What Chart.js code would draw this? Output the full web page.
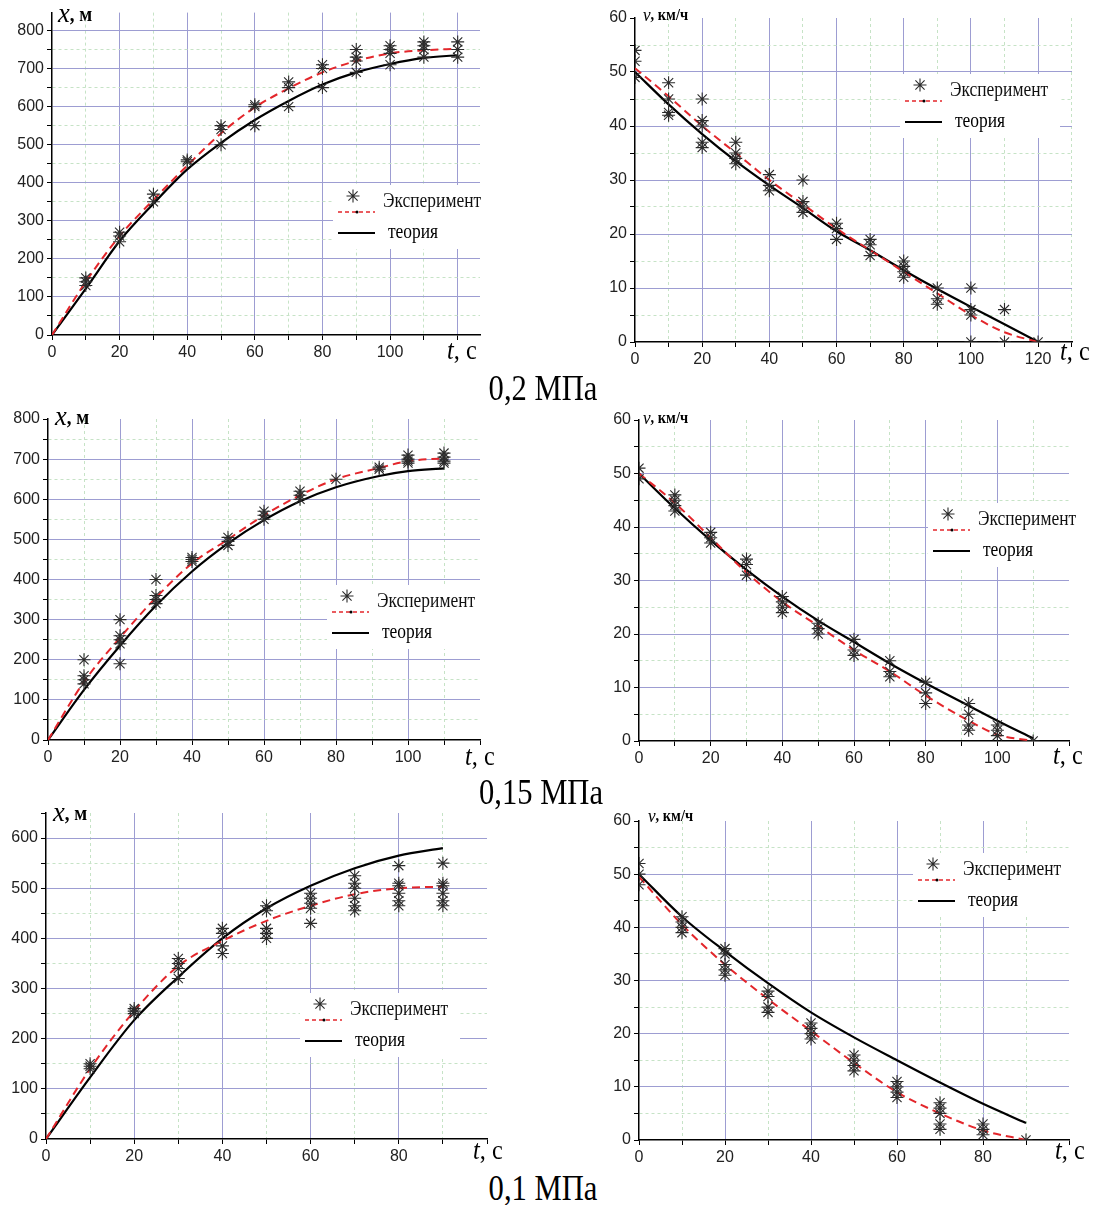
<!DOCTYPE html>
<html>
<head>
<meta charset="utf-8">
<script src="https://cdn.jsdelivr.net/npm/chart.js@4.4.1/dist/chart.umd.min.js"></script>
<style>
  body { margin: 0; background: #fff; width: 1099px; height: 1205px; position: relative; overflow: hidden; }
  canvas { position: absolute; }
  .cap { position: absolute; font-family: 'Liberation Serif', serif; font-size: 36px; line-height: 1; color: #000;
         white-space: nowrap; transform: translateX(-50%) scaleX(0.85); }
</style>
</head>
<body>
<canvas id="c1" width="540" height="372" style="left:0;top:0"></canvas>
<canvas id="c2" width="519" height="372" style="left:580px;top:0"></canvas>
<canvas id="c3" width="540" height="375" style="left:0;top:395px"></canvas>
<canvas id="c4" width="519" height="375" style="left:580px;top:395px"></canvas>
<canvas id="c5" width="540" height="370" style="left:0;top:798px"></canvas>
<canvas id="c6" width="519" height="370" style="left:580px;top:798px"></canvas>
<div class="cap" style="left:543px;top:370px">0,2 МПа</div>
<div class="cap" style="left:541px;top:774px">0,15 МПа</div>
<div class="cap" style="left:543px;top:1170px">0,1 МПа</div>
<script>
// ---- data ----
// tick labels
const xLabels800 = [0, 100, 200, 300, 400, 500, 600, 700, 800];
const xLabels600 = [0, 100, 200, 300, 400, 500, 600];
const vLabels = [0, 10, 20, 30, 40, 50, 60];
const tLabels100 = [0, 20, 40, 60, 80, 100];
const tLabels120 = [0, 20, 40, 60, 80, 100, 120];
const tLabels80 = [0, 20, 40, 60, 80];

// 0,2 МПа — path x(t)
const x02Time = [0, 10, 20, 30, 40, 50, 60, 70, 80, 90, 100, 110, 120];
const x02Fit = [0, 140, 260, 355, 445, 530, 598, 648, 690, 720, 740, 748, 752];
const x02Theory = [0, 122, 247, 345, 435, 505, 565, 615, 658, 690, 712, 728, 735];
const x02ExpT = [10, 10, 10, 20, 20, 20, 30, 30, 40, 40, 50, 50, 50, 60, 60, 60, 70, 70, 70, 80, 80, 80,
  90, 90, 90, 90, 100, 100, 100, 100, 110, 110, 110, 110, 120, 120, 120];
const x02ExpX = [150, 140, 130, 270, 260, 245, 370, 350, 460, 455, 550, 540, 500, 605, 600, 550, 665, 650, 600, 710, 700, 650,
  750, 730, 720, 690, 760, 750, 740, 710, 770, 760, 750, 730, 770, 750, 730];

// 0,2 МПа — speed v(t)
const v02Time = [0, 10, 20, 30, 40, 50, 60, 70, 80, 90, 100, 110, 120];
const v02Fit = [50.7, 45.5, 40, 35, 30, 25.5, 21, 17, 13, 9, 5, 1.8, 0];
const v02Theory = [50, 44, 38.5, 33.5, 29, 24.8, 20.5, 17, 13.3, 9.8, 6.5, 3.3, 0];
const v02ExpT = [0, 0, 0, 10, 10, 10, 10, 20, 20, 20, 20, 20, 30, 30, 30, 30, 40, 40, 40, 50, 50, 50, 50,
  60, 60, 60, 70, 70, 70, 80, 80, 80, 80, 90, 90, 90, 100, 100, 100, 100, 110, 110, 120];
const v02ExpV = [54, 52, 49, 48, 45, 42.5, 42, 45, 41, 40, 37, 36, 37, 35, 34, 33, 31, 29, 28, 30, 26, 25, 24,
  22, 21, 19, 19, 18, 16, 15, 14, 13, 12, 10, 8, 7, 10, 6, 5, 0, 6, 0, 0];

// 0,15 МПа — path x(t)
const x015Time = [0, 10, 20, 30, 40, 50, 60, 70, 80, 92, 100, 110];
const x015Fit = [0, 145, 255, 355, 440, 500, 560, 610, 650, 678, 695, 702];
const x015Theory = [0, 125, 235, 335, 420, 490, 548, 595, 630, 658, 670, 677];
const x015ExpT = [10, 10, 10, 10, 20, 20, 20, 20, 20, 30, 30, 30, 30, 40, 40, 40, 50, 50, 50, 60, 60, 60,
  70, 70, 70, 80, 92, 92, 100, 100, 100, 100, 110, 110, 110, 110];
const x015ExpX = [200, 160, 150, 140, 300, 260, 250, 240, 190, 400, 360, 350, 340, 455, 450, 445, 505, 495, 485, 570, 560, 550,
  620, 610, 600, 650, 680, 675, 710, 700, 695, 690, 715, 705, 695, 690];

// 0,15 МПа — speed v(t)
const v015Time = [0, 10, 20, 30, 40, 50, 60, 70, 80, 92, 100, 110];
const v015Fit = [50, 44.5, 38, 31.5, 26, 21.5, 17, 13, 8.5, 3.8, 1.2, 0];
const v015Theory = [50, 43.5, 37.5, 32, 27, 22.5, 18.5, 14.5, 10.8, 6.6, 3.8, 0.5];
const v015ExpT = [0, 0, 10, 10, 10, 10, 20, 20, 20, 30, 30, 30, 40, 40, 40, 40, 50, 50, 50, 60, 60, 60,
  70, 70, 70, 80, 80, 80, 92, 92, 92, 92, 100, 100, 100, 110];
const v015ExpV = [51, 49, 46, 45, 44, 43, 39, 38, 37, 34, 33, 31, 27, 26, 25, 24, 22, 21, 20, 19, 17, 16,
  15, 13, 12, 11, 9, 7, 7, 5, 3, 2, 3, 2, 1, 0];

// 0,1 МПа — path x(t)
const x01Time = [0, 10, 20, 30, 40, 50, 60, 70, 80, 90];
const x01Fit = [0, 140, 255, 345, 395, 435, 465, 488, 500, 503];
const x01Theory = [0, 123, 237, 323, 400, 460, 505, 540, 565, 580];
const x01ExpT = [10, 10, 10, 20, 20, 20, 30, 30, 30, 30, 40, 40, 40, 40, 50, 50, 50, 50, 50,
  60, 60, 60, 60, 60, 70, 70, 70, 70, 70, 70, 80, 80, 80, 80, 80, 80, 90, 90, 90, 90, 90, 90];
const x01ExpX = [150, 145, 140, 260, 255, 250, 360, 350, 340, 320, 420, 410, 385, 370, 465, 455, 420, 410, 400,
  490, 480, 470, 460, 430, 525, 510, 500, 480, 465, 455, 545, 510, 505, 490, 475, 465, 550, 510, 505, 490, 475, 465];

// 0,1 МПа — speed v(t)
const v01Time = [0, 10, 20, 30, 40, 50, 60, 70, 80, 90];
const v01Fit = [49.5, 40.5, 33, 26.5, 20.5, 14.5, 9, 5, 1.8, 0];
const v01Theory = [50, 42, 35.5, 29.5, 24, 19.3, 15, 10.8, 6.8, 3.2];
const v01ExpT = [0, 0, 0, 10, 10, 10, 10, 20, 20, 20, 20, 20, 30, 30, 30, 30, 40, 40, 40, 40, 50, 50, 50, 50,
  60, 60, 60, 60, 70, 70, 70, 70, 70, 80, 80, 80, 90];
const v01ExpV = [52, 50, 48, 42, 41, 40, 39, 36, 35, 33, 32, 31, 28, 27, 25, 24, 22, 21, 20, 19, 16, 15, 14, 13,
  11, 10, 9, 8, 7, 6, 5, 3, 2, 3, 2, 1, 0];

// ---- styling ----
const GRID_MAJOR = '#9d9dd2';
const GRID_MINOR = '#c6e3c6';
const SERIF = "'Liberation Serif', 'Times New Roman', serif";
const SANS = "'Liberation Sans', Arial, sans-serif";

const toPts = (ts, vs) => ts.map((t, i) => ({ x: t, y: vs[i] }));

function txt(ctx, s, x, y, font, sx) {
  ctx.save();
  ctx.font = font;
  ctx.translate(x, y);
  ctx.scale(sx, 1);
  ctx.fillText(s, 0, 0);
  const w = ctx.measureText(s).width * sx;
  ctx.restore();
  return w;
}

function star(ctx, x, y, r) {
  ctx.beginPath();
  for (let k = 0; k < 4; k++) {
    const a = k * Math.PI / 4;
    ctx.moveTo(x - r * Math.cos(a), y - r * Math.sin(a));
    ctx.lineTo(x + r * Math.cos(a), y + r * Math.sin(a));
  }
  ctx.stroke();
}

// legend, axis titles
function decor(p) {
  const ox = p.box[0], oy = p.box[1];
  return {
    id: 'decor',
    beforeDatasetsDraw(chart) {
      const ctx = chart.ctx, a = chart.chartArea;
      const lx = p.legend[0] - ox, ly = p.legend[1] - oy;
      ctx.save();
      ctx.fillStyle = '#fff';
      const bx = lx - 5, by = ly - 27;
      ctx.fillRect(bx, by, Math.min(a.right - bx, 160), 64);
      ctx.strokeStyle = '#2b2b2b';
      ctx.lineWidth = 1.1;
      star(ctx, lx + 15, ly - 16, 6.5);
      ctx.fillStyle = '#111';
      ctx.textBaseline = 'middle';
      txt(ctx, 'Эксперимент', lx + 45, ly - 11, '21px ' + SERIF, 0.83);
      ctx.strokeStyle = '#e3262b';
      ctx.lineWidth = 1.5;
      ctx.setLineDash([4, 3]);
      ctx.beginPath(); ctx.moveTo(lx, ly); ctx.lineTo(lx + 37, ly); ctx.stroke();
      ctx.setLineDash([]);
      ctx.fillStyle = '#000';
      ctx.beginPath(); ctx.arc(lx + 19, ly, 1.5, 0, Math.PI * 2); ctx.fill();
      ctx.strokeStyle = '#000';
      ctx.lineWidth = 2.2;
      ctx.beginPath(); ctx.moveTo(lx, ly + 21); ctx.lineTo(lx + 37, ly + 21); ctx.stroke();
      txt(ctx, 'теория', lx + 50, ly + 20, '21px ' + SERIF, 0.83);
      ctx.restore();
    },
    afterDraw(chart) {
      const ctx = chart.ctx;
      ctx.save();
      ctx.fillStyle = '#000';
      ctx.textBaseline = 'middle';
      // y title
      const yx = p.yTitle[0] - ox, yy = p.yTitle[1] - oy;
      if (p.kind === 'x') {
        const w = txt(ctx, 'x', yx, yy, 'italic 28px ' + SERIF, 0.95);
        txt(ctx, ', м', yx + w, yy + 1, 'bold 20px ' + SERIF, 0.95);
      } else {
        const w = txt(ctx, 'v', yx, yy, 'italic 19px ' + SERIF, 0.9);
        txt(ctx, ', км/ч', yx + w, yy, 'bold 16px ' + SERIF, 0.9);
      }
      // t title
      const tx = p.tTitle[0] - ox, ty = p.tTitle[1] - oy;
      const w2 = txt(ctx, 't', tx, ty, 'italic 27px ' + SERIF, 0.9);
      txt(ctx, ', c', tx + w2, ty, '27px ' + SERIF, 0.9);
      ctx.restore();
    }
  };
}

function makeTicks(max, step) {
  const out = [];
  for (let v = 0; v <= max + 1e-6; v += step) out.push({ value: Math.round(v * 1000) / 1000 });
  return out;
}

function axis(max, step, major, labels, fixed, horizontal) {
  return {
    type: 'linear', min: 0, max: max,
    afterBuildTicks: s => { s.ticks = makeTicks(max, step); },
    afterFit: s => { if (horizontal) s.height = fixed; else s.width = fixed; },
    ticks: {
      autoSkip: false, maxRotation: 0, padding: 3, color: '#222',
      font: { family: SANS, size: 16 },
      callback: v => labels.includes(v) ? String(v) : ''
    },
    grid: {
      lineWidth: 1, tickLength: 5, tickColor: '#000', tickWidth: 1,
      color: c => {
        const v = c.tick ? c.tick.value : 0;
        if (v === 0 || Math.abs(v - max) < 1e-6) return 'rgba(0,0,0,0)';
        return Math.abs(v % major) < 1e-6 ? GRID_MAJOR : GRID_MINOR;
      }
    },
    border: {
      color: '#000', width: 1.5,
      dash: c => (c.tick && Math.abs(c.tick.value % major) > 1e-6) ? [3, 3] : []
    }
  };
}

const panels = [
  { id: 'c1', kind: 'x', box: [0, 0, 540, 372], area: [52, 12, 480, 335],
    xMax: 126.6, yMax: 847, xLabels: tLabels100, yLabels: xLabels800, yStep: 50, yMajor: 100,
    time: x02Time, fit: x02Fit, theory: x02Theory, expT: x02ExpT, expV: x02ExpX,
    legend: [338, 212], yTitle: [58, 15], tTitle: [447, 352] },
  { id: 'c2', kind: 'v', box: [580, 0, 519, 372], area: [635, 18, 1072, 342],
    xMax: 130.1, yMax: 60, xLabels: tLabels120, yLabels: vLabels, yStep: 5, yMajor: 10,
    time: v02Time, fit: v02Fit, theory: v02Theory, expT: v02ExpT, expV: v02ExpV,
    legend: [905, 101], yTitle: [643, 16], tTitle: [1060, 353] },
  { id: 'c3', kind: 'x', box: [0, 395, 540, 375], area: [48, 419, 480, 740],
    xMax: 120, yMax: 800, xLabels: tLabels100, yLabels: xLabels800, yStep: 50, yMajor: 100,
    time: x015Time, fit: x015Fit, theory: x015Theory, expT: x015ExpT, expV: x015ExpX,
    legend: [332, 612], yTitle: [55, 418], tTitle: [465, 758] },
  { id: 'c4', kind: 'v', box: [580, 395, 519, 375], area: [639, 420, 1069, 741],
    xMax: 120, yMax: 60, xLabels: tLabels100, yLabels: vLabels, yStep: 5, yMajor: 10,
    time: v015Time, fit: v015Fit, theory: v015Theory, expT: v015ExpT, expV: v015ExpV,
    legend: [933, 530], yTitle: [643, 419], tTitle: [1053, 757] },
  { id: 'c5', kind: 'x', box: [0, 798, 540, 370], area: [46, 813, 487, 1139],
    xMax: 100, yMax: 650, xLabels: tLabels80, yLabels: xLabels600, yStep: 50, yMajor: 100,
    time: x01Time, fit: x01Fit, theory: x01Theory, expT: x01ExpT, expV: x01ExpX,
    legend: [305, 1020], yTitle: [53, 814], tTitle: [473, 1152] },
  { id: 'c6', kind: 'v', box: [580, 798, 519, 370], area: [639, 821, 1069, 1140],
    xMax: 100, yMax: 60, xLabels: tLabels80, yLabels: vLabels, yStep: 5, yMajor: 10,
    time: v01Time, fit: v01Fit, theory: v01Theory, expT: v01ExpT, expV: v01ExpV,
    legend: [918, 880], yTitle: [648, 817], tTitle: [1055, 1152] }
];

panels.forEach(p => {
  const [cx, cy, cw, ch] = p.box;
  const [L, T, R, B] = p.area;
  new Chart(document.getElementById(p.id), {
    type: 'line',
    data: {
      datasets: [
        {
          data: toPts(p.expT, p.expV), showLine: false,
          pointStyle: 'star', pointRadius: 6.5, pointHoverRadius: 6.5,
          pointBorderColor: '#2b2b2b', pointBorderWidth: 1.1,
          borderColor: '#2b2b2b', backgroundColor: 'rgba(0,0,0,0)'
        },
        {
          data: toPts(p.time, p.fit), borderColor: '#e3262b', borderWidth: 2,
          borderDash: [8, 5], pointRadius: 0, cubicInterpolationMode: 'monotone', fill: false
        },
        {
          data: toPts(p.time, p.theory), borderColor: '#000', borderWidth: 2.2,
          pointRadius: 0, cubicInterpolationMode: 'monotone', fill: false
        }
      ]
    },
    options: {
      responsive: false,
      animation: false,
      layout: { padding: { left: 0, top: T - cy, right: cx + cw - R, bottom: 0 } },
      plugins: { legend: { display: false }, tooltip: { enabled: false } },
      scales: {
        x: axis(p.xMax, 10, 20, p.xLabels, cy + ch - B, true),
        y: axis(p.yMax, p.yStep, p.yMajor, p.yLabels, L - cx, false)
      }
    },
    plugins: [decor(p)]
  });
});
</script>
</body>
</html>
